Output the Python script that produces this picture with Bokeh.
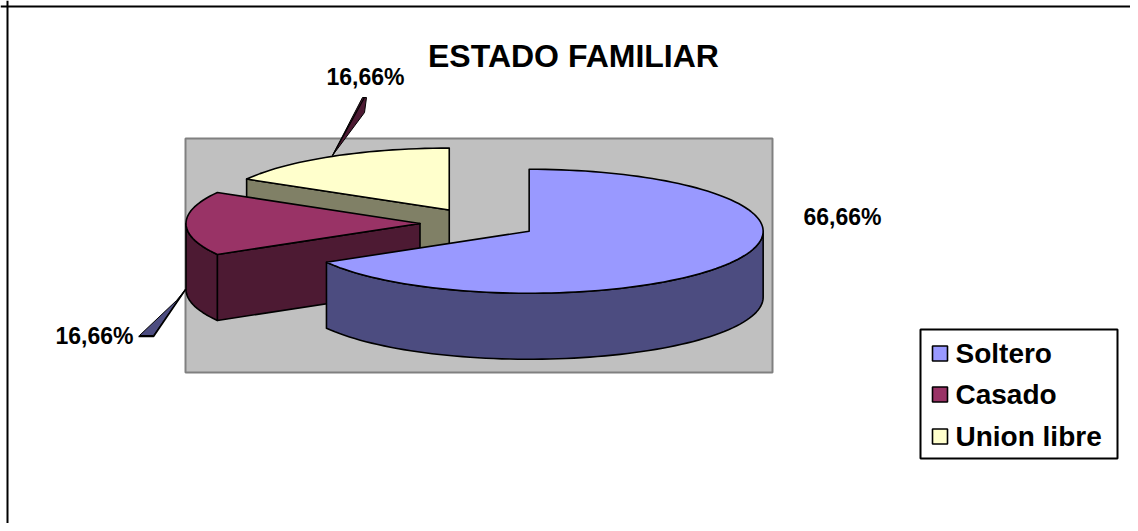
import numpy as np
from bokeh.plotting import figure
from bokeh.models import Range1d, ColumnDataSource, Span
from bokeh.core.properties import value
from bokeh.embed import file_html
from bokeh.resources import INLINE

# ---------------- data ----------------
categories = ["Soltero", "Casado", "Union libre"]
values = [66.66, 16.66, 16.66]
pct_labels = ["66,66%", "16,66%", "16,66%"]
title_text = "ESTADO FAMILIAR"

top_colors = ["#9999FF", "#993366", "#FFFFCC"]
side_colors = ["#4C4C80", "#4D1A33", "#808066"]

FONT = value("Liberation Sans")

# ---------------- figure (data units = canvas pixels) ----------------
W, H = 1130, 523
p = figure(width=W, height=H, x_range=Range1d(0, W), y_range=Range1d(H, 0),
           output_backend="svg", toolbar_location=None, min_border=0,
           x_axis_location=None, y_axis_location=None)
p.grid.visible = False
p.outline_line_color = None
p.background_fill_color = "white"
p.border_fill_color = "white"

# chart frame (left/top edges; right/bottom fall outside the view)
p.add_layout(Span(location=7, dimension="height", line_color="black", line_width=2))
p.add_layout(Span(location=6, dimension="width", line_color="black", line_width=2))

# plot area
p.quad(left=[185], right=[772], top=[138], bottom=[372],
       fill_color="#C0C0C0", line_color="#808080", line_width=2)

# ---------------- 3D exploded pie ----------------
CX, CY = 478.0, 223.0
A, B = 234.0, 62.0
D = 66.0
EXPL = 0.25

vals = np.array(values, dtype=float)
frac = vals / vals.sum()
cum = np.concatenate([[0.0], np.cumsum(frac)])


def arc(ox, oy, t0, t1, dz=0.0, n=None):
    if n is None:
        n = max(4, int(abs(t1 - t0) / 2) + 2)
    ts = np.radians(np.linspace(t0, t1, n))
    return list(ox + A * np.cos(ts)), list(oy - B * np.sin(ts) + dz)


slices = []
for i in range(len(vals)):
    hi = 90.0 - cum[i] * 360.0
    lo = 90.0 - cum[i + 1] * 360.0
    mid = np.radians((lo + hi) / 2.0)
    ox = CX + EXPL * A * np.cos(mid)
    oy = CY - EXPL * B * np.sin(mid)
    slices.append((oy, i, lo, hi, ox))

slices.sort()

for oy, i, lo, hi, ox in slices:
    face_xs, face_ys, face_fill = [], [], []
    # radial faces
    for edge, normal in ((lo, lo - 90.0), (hi, hi + 90.0)):
        if np.sin(np.radians(normal)) < -1e-6:
            ex = ox + A * np.cos(np.radians(edge))
            ey = oy - B * np.sin(np.radians(edge))
            face_xs.append([ox, ex, ex, ox])
            face_ys.append([oy, ey, ey + D, oy + D])
            face_fill.append(side_colors[i])
    # outer curved band on the front half
    for k in range(-2, 3):
        f0, f1 = -180.0 + 360.0 * k, 0.0 + 360.0 * k
        t0, t1 = max(lo, f0), min(hi, f1)
        if t1 - t0 > 1e-6:
            xt, yt = arc(ox, oy, t0, t1)
            xb, yb = arc(ox, oy, t1, t0, dz=D)
            face_xs.append(xt + xb)
            face_ys.append(yt + yb)
            face_fill.append(side_colors[i])
    # top face
    xt, yt = arc(ox, oy, lo, hi)
    face_xs.append([ox] + xt)
    face_ys.append([oy] + yt)
    face_fill.append(top_colors[i])

    src = ColumnDataSource(dict(xs=face_xs, ys=face_ys, fill=face_fill))
    p.patches(xs="xs", ys="ys", fill_color="fill", line_color="black",
              line_width=1.6, line_join="round", source=src)

# ---------------- leader lines ----------------
lead_xs = [[139, 153, 185, 176], [332, 362, 366, 364]]
lead_ys = [[335, 335, 289, 300], [155, 97, 97, 112]]
lead_fill = [side_colors[0], side_colors[1]]
p.patches(xs=lead_xs, ys=lead_ys, fill_color=lead_fill, line_color="black", line_width=1)
p.line(x=[138, 153, 185], y=[336, 336, 289], line_color="black", line_width=1.6)
p.line(x=[332, 364], y=[155, 97], line_color="black", line_width=1.2)

# ---------------- data labels ----------------
label_x = [842, 94, 365]
label_y = [216, 335, 76]
p.text(x=label_x, y=label_y, text=pct_labels, text_font=FONT, text_font_style="bold",
       text_font_size="23px", text_align="center", text_baseline="middle", text_color="black")

# ---------------- title ----------------
p.text(x=[573], y=[55], text=[title_text], text_font=FONT, text_font_style="bold",
       text_font_size="32px", text_align="center", text_baseline="middle", text_color="black")

# ---------------- legend ----------------
p.quad(left=[920], right=[1117], top=[329], bottom=[458],
       fill_color="white", line_color="black", line_width=2)
row_y = [353, 394, 436]
p.quad(left=[932] * 3, right=[947] * 3, top=[y - 7.5 for y in row_y], bottom=[y + 7.5 for y in row_y],
       fill_color=top_colors, line_color="black", line_width=1.6)
p.text(x=[955] * 3, y=row_y, text=categories, text_font=FONT,
       text_font_style="bold", text_font_size="28px", text_align="left",
       text_baseline="middle", text_color="black")

open("out.html", "w").write(file_html(p, INLINE))
